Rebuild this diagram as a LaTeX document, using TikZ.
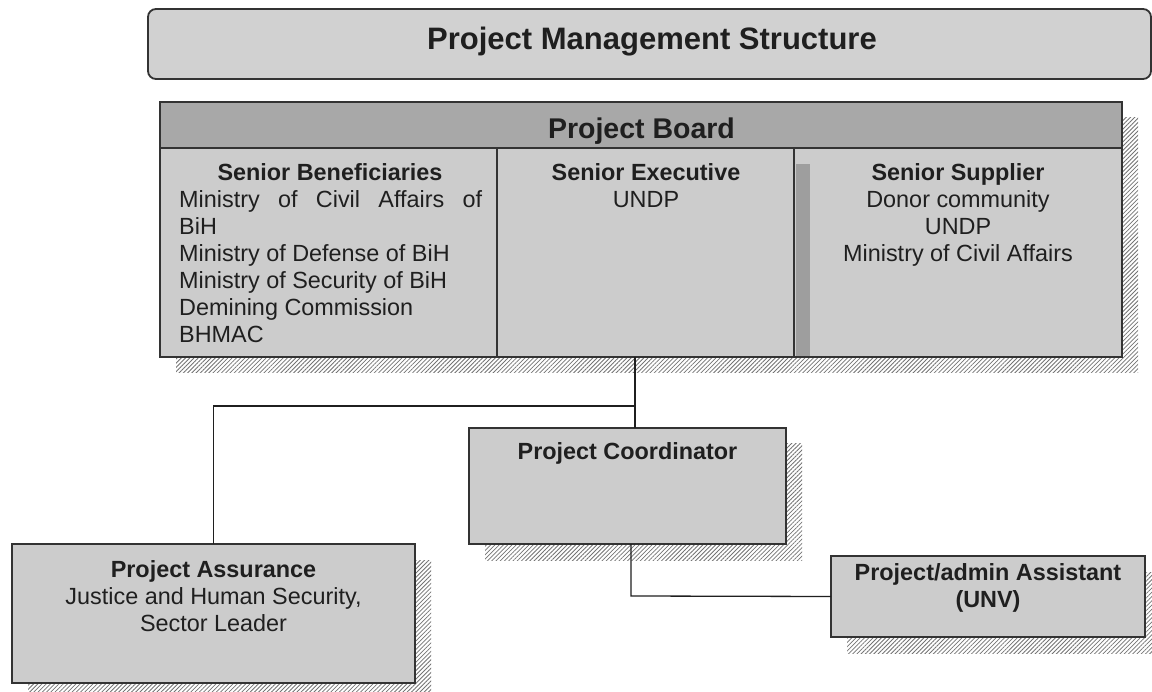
\documentclass[tikz,border=0pt]{standalone}
\usepackage{fontspec}
\setmainfont{Liberation Sans}
\usetikzlibrary{patterns.meta,calc}
\definecolor{boxfill}{gray}{0.80}
\definecolor{headfill}{gray}{0.66}
\definecolor{titlefill}{gray}{0.82}
\definecolor{edge}{gray}{0.2}
\definecolor{ink}{gray}{0.12}
\definecolor{hatchcol}{gray}{0.45}
\definecolor{stripfill}{gray}{0.62}
\tikzset{
  box/.style={draw=edge, line width=1.8pt, fill=boxfill, inner sep=0pt, outer sep=0pt, anchor=north west},
  hatch/.style={pattern={Lines[angle=45,distance=3pt,line width=0.8pt]}, pattern color=hatchcol},
  txt/.style={inner sep=0pt, text=ink, font=\fontsize{23.4}{27}\selectfont, anchor=base},
  btxt/.style={txt, font=\fontsize{23.4}{27}\selectfont\bfseries},
  ltxt/.style={txt, anchor=base west},
  conn/.style={draw=ink, line width=1.3pt},
}
\begin{document}
\begin{tikzpicture}[x=1pt,y=-1pt]
\useasboundingbox (0,0) rectangle (1152,692);
\fill[white] (0,0) rectangle (1152,692);

% shadows
\fill[hatch] (176,118) rectangle (1138,373);
\fill[hatch] (485,444) rectangle (802,560);
\fill[hatch] (28,560) rectangle (431,699);
\fill[hatch] (847,572) rectangle (1161,653);

% title
\node[box, fill=titlefill, rounded corners=8pt, minimum width=1003pt, minimum height=70pt] (title) at (148,9) {};
\node[txt, font=\fontsize{31}{36}\selectfont\bfseries] (titletext) at (652,50) {Project Management Structure};

% board
\node[box, fill=headfill, minimum width=962pt, minimum height=46pt] (board) at (160,102) {};
\node[txt, font=\fontsize{28.5}{32}\selectfont\bfseries] (boardtext) at (641.5,139) {Project Board};
\node[box, minimum width=337pt, minimum height=209pt] (sb) at (160,148) {};
\node[box, minimum width=297pt, minimum height=209pt] (se) at (497,148) {};
\node[box, minimum width=328pt, minimum height=209pt] (ss) at (794,148) {};
\fill[stripfill] (796,164) rectangle (810,356);

\node[btxt] (sbh) at (330,181) {Senior Beneficiaries};
\node[ltxt] (sb1) at (179,208) {\makebox[303pt][s]{Ministry of Civil Affairs of}};
\node[ltxt] (sb2) at (179,235) {BiH};
\node[ltxt] (sb3) at (179,262) {Ministry of Defense of BiH};
\node[ltxt] (sb4) at (179,289) {Ministry of Security of BiH};
\node[ltxt] (sb5) at (179,316) {Demining Commission};
\node[ltxt] (sb6) at (179,343) {BHMAC};

\node[btxt] (seh) at (646,181) {Senior Executive};
\node[txt] (se1) at (646,208) {UNDP};

\node[btxt] (ssh) at (958,181) {Senior Supplier};
\node[txt] (ss1) at (958,208) {Donor community};
\node[txt] (ss2) at (958,235) {UNDP};
\node[txt] (ss3) at (958,262) {Ministry of Civil Affairs};

% coordinator
\node[box, minimum width=317pt, minimum height=116pt] (coord) at (469,428) {};
\node[btxt] (coordtext) at (627.5,460) {Project Coordinator};

% assurance
\node[box, minimum width=403pt, minimum height=139pt] (assur) at (12,544) {};
\node[btxt] (as0) at (213.5,577) {Project Assurance};
\node[txt] (as1) at (213.5,604) {Justice and Human Security,};
\node[txt] (as2) at (213.5,631) {Sector Leader};

% admin
\node[box, minimum width=314pt, minimum height=81pt] (admin) at (831,556) {};
\node[btxt] (ad0) at (988,580) {Project/admin Assistant};
\node[btxt] (ad1) at (988,607) {(UNV)};

% connectors
\coordinate (j1) at (635,406);
\coordinate (j2) at (631,596);
\draw[conn] (j1 |- se.south) -- (j1 |- coord.north);
\draw[conn] (j1) -| (assur.north);
\draw[conn] (j2 |- coord.south) -- (j2) -- (admin.west);
\end{tikzpicture}
\end{document}
